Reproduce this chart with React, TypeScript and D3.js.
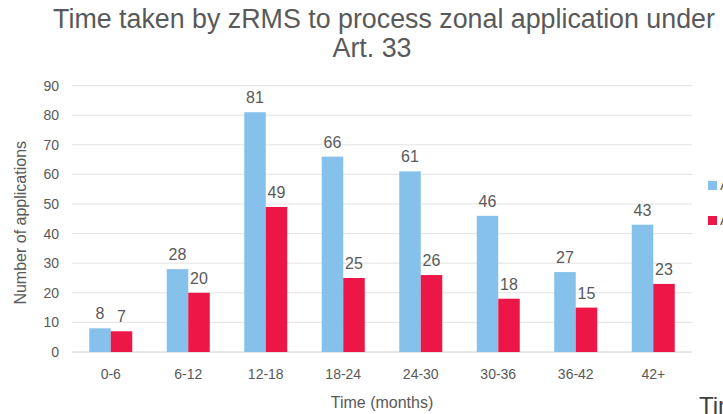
import React, { useRef, useEffect } from "react";
import * as d3 from "d3";

const categories = ["0-6", "6-12", "12-18", "18-24", "24-30", "30-36", "36-42", "42+"];
const seriesA = [8, 28, 81, 66, 61, 46, 27, 43];
const seriesB = [7, 20, 49, 25, 26, 18, 15, 23];
const seriesNames = ["Applications", "Authorised"];
const yTicks = [0, 10, 20, 30, 40, 50, 60, 70, 80, 90];

const BLUE = "#85c1ea";
const RED = "#ed1747";
const TEXT = "#595959";

const App: React.FC = () => {
    const chartRef = useRef<SVGSVGElement>(null);

    useEffect(() => {
        const width = 723,
            height = 414;
        const left = 72,
            right = 692,
            top = 85.6,
            bottom = 352;

        const svg = d3.select(chartRef.current).attr("width", width).attr("height", height);
        svg.selectAll("*").remove();
        svg.style("font-family", "'Liberation Sans', Arial, sans-serif");

        const x = d3.scaleBand<string>().domain(categories).range([left, right]).paddingInner(0.445).paddingOuter(0.2225);
        const x1 = d3.scaleBand<number>().domain([0, 1]).range([0, x.bandwidth()]);
        const y = d3.scaleLinear().domain([0, 90]).range([bottom, top]);

        // title
        svg.append("text")
            .attr("x", 384)
            .attr("y", 28)
            .attr("text-anchor", "middle")
            .style("font-size", "26.8px")
            .style("fill", TEXT)
            .text("Time taken by zRMS to process zonal application under");
        svg.append("text")
            .attr("x", 372)
            .attr("y", 57)
            .attr("text-anchor", "middle")
            .style("font-size", "26.8px")
            .style("fill", TEXT)
            .text("Art. 33");

        // gridlines
        svg.append("g")
            .selectAll("line")
            .data(yTicks)
            .enter()
            .append("line")
            .attr("x1", left)
            .attr("x2", right)
            .attr("y1", (d) => y(d))
            .attr("y2", (d) => y(d))
            .attr("stroke", (d) => (d === 0 ? "#d0d0d0" : "#e3e3e3"))
            .attr("stroke-width", 1);

        // y tick labels
        svg.append("g")
            .selectAll("text")
            .data(yTicks)
            .enter()
            .append("text")
            .attr("x", 59)
            .attr("y", (d) => y(d) + 5)
            .attr("text-anchor", "end")
            .style("font-size", "14px")
            .style("fill", TEXT)
            .text((d) => d);

        // x tick labels
        svg.append("g")
            .selectAll("text")
            .data(categories)
            .enter()
            .append("text")
            .attr("x", (d) => (x(d) as number) + x.bandwidth() / 2)
            .attr("y", 379)
            .attr("text-anchor", "middle")
            .style("font-size", "14px")
            .style("fill", TEXT)
            .text((d) => d);

        // axis titles
        svg.append("text")
            .attr("x", 382)
            .attr("y", 408)
            .attr("text-anchor", "middle")
            .style("font-size", "16px")
            .style("fill", TEXT)
            .text("Time (months)");
        svg.append("text")
            .attr("transform", `translate(26, ${(top + bottom) / 2 + 4}) rotate(-90)`)
            .attr("text-anchor", "middle")
            .style("font-size", "16px")
            .style("fill", TEXT)
            .text("Number of applications");

        // bars
        [seriesA, seriesB].forEach((vals, s) => {
            const g = svg.append("g");
            g.selectAll("rect")
                .data(vals)
                .enter()
                .append("rect")
                .attr("x", (d, i) => (x(categories[i]) as number) + (x1(s) as number))
                .attr("y", (d) => y(d))
                .attr("width", x1.bandwidth())
                .attr("height", (d) => bottom - y(d))
                .attr("fill", s === 0 ? BLUE : RED);
            g.selectAll("text")
                .data(vals)
                .enter()
                .append("text")
                .attr("x", (d, i) => (x(categories[i]) as number) + (x1(s) as number) + x1.bandwidth() / 2)
                .attr("y", (d) => y(d) - 9)
                .attr("text-anchor", "middle")
                .style("font-size", "16px")
                .style("fill", TEXT)
                .text((d) => d);
        });

        // legend (runs off the right edge, as in the source)
        const legend = svg.append("g");
        seriesNames.forEach((name, i) => {
            legend.append("rect")
                .attr("x", 708)
                .attr("y", 181 + i * 35)
                .attr("width", 9)
                .attr("height", 9)
                .attr("fill", i === 0 ? BLUE : RED);
            legend.append("text")
                .attr("x", 720)
                .attr("y", 190 + i * 35)
                .style("font-size", "14px")
                .style("fill", TEXT)
                .text(name);
        });

        // fragment of the next chart's title
        svg.append("text")
            .attr("x", 699)
            .attr("y", 414)
            .style("font-size", "24px")
            .style("fill", "#404040")
            .text("Time");
    }, []);

    return (
        <div>
            <svg ref={chartRef} style={{ position: "absolute", left: 0, top: 0, background: "#fff" }}></svg>
        </div>
    );
};

export default App;
